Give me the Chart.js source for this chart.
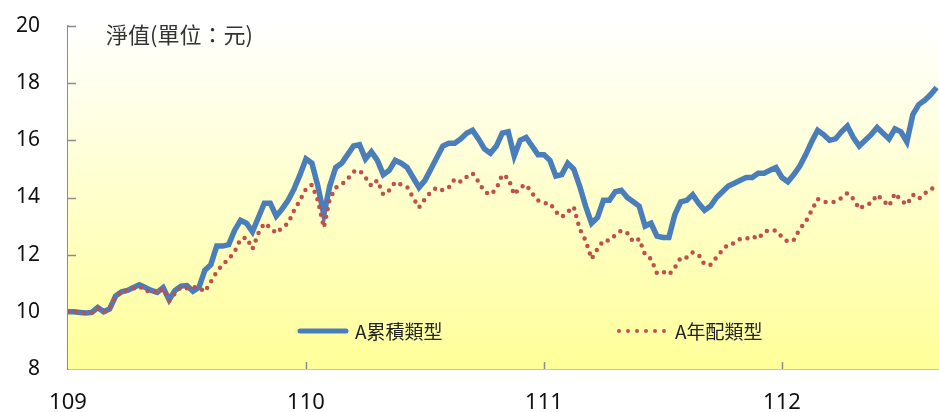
<!DOCTYPE html>
<html>
<head>
<meta charset="utf-8">
<script src="https://cdn.jsdelivr.net/npm/chart.js@4/dist/chart.umd.min.js"></script>
<style>
  html, body { margin: 0; padding: 0; background: #fff; }
  #wrap { width: 939px; height: 412px; position: relative; }
</style>
</head>
<body>
<div id="wrap"><canvas id="navChart"></canvas></div>
<script>
  // time axis (ROC year, decimal)
  const years = [
    109.000, 109.025, 109.050, 109.075, 109.100, 109.125, 109.150, 109.175, 109.200, 109.225,
    109.250, 109.275, 109.300, 109.325, 109.350, 109.375, 109.400, 109.425, 109.450, 109.475,
    109.500, 109.525, 109.550, 109.575, 109.600, 109.625, 109.650, 109.675, 109.700, 109.725,
    109.750, 109.775, 109.800, 109.825, 109.850, 109.875, 109.900, 109.925, 109.950, 109.975,
    110.000, 110.025, 110.050, 110.075, 110.100, 110.125, 110.150, 110.175, 110.200, 110.225,
    110.250, 110.275, 110.300, 110.325, 110.350, 110.375, 110.400, 110.425, 110.450, 110.475,
    110.500, 110.525, 110.550, 110.575, 110.600, 110.625, 110.650, 110.675, 110.700, 110.725,
    110.750, 110.775, 110.800, 110.825, 110.850, 110.875, 110.900, 110.925, 110.950, 110.975,
    111.000, 111.025, 111.050, 111.075, 111.100, 111.125, 111.150, 111.175, 111.200, 111.225,
    111.250, 111.275, 111.300, 111.325, 111.350, 111.375, 111.400, 111.425, 111.450, 111.475,
    111.500, 111.525, 111.550, 111.575, 111.600, 111.625, 111.650, 111.675, 111.700, 111.725,
    111.750, 111.775, 111.800, 111.825, 111.850, 111.875, 111.900, 111.925, 111.950, 111.975,
    112.000, 112.025, 112.050, 112.075, 112.100, 112.125, 112.150, 112.175, 112.200, 112.225,
    112.250, 112.275, 112.300, 112.325, 112.350, 112.375, 112.400, 112.425, 112.450, 112.475,
    112.500, 112.525, 112.550, 112.575, 112.600, 112.625, 112.650
  ];

  // A累積類型 NAV
  const accumNav = [
    10.00, 10.00, 9.98, 9.96, 9.98, 10.15, 10.00, 10.10, 10.55, 10.70,
    10.75, 10.85, 10.95, 10.85, 10.75, 10.68, 10.85, 10.42, 10.75, 10.90,
    10.92, 10.72, 10.85, 11.45, 11.65, 12.30, 12.30, 12.35, 12.85, 13.20,
    13.10, 12.80, 13.30, 13.80, 13.80, 13.35, 13.60, 13.90, 14.30, 14.80,
    15.35, 15.20, 14.40, 13.40, 14.40, 15.05, 15.20, 15.50, 15.80, 15.85,
    15.35, 15.60, 15.30, 14.80, 14.95, 15.30, 15.20, 15.05, 14.70, 14.35,
    14.60, 15.00, 15.40, 15.80, 15.90, 15.90, 16.05, 16.25, 16.35, 16.05,
    15.70, 15.55, 15.80, 16.25, 16.30, 15.45, 16.00, 16.10, 15.80, 15.50,
    15.50, 15.30, 14.75, 14.80, 15.20, 15.00, 14.40, 13.70, 13.10, 13.30,
    13.90, 13.90, 14.20, 14.25, 14.00, 13.85, 13.70, 13.00, 13.10, 12.65,
    12.60, 12.60, 13.40, 13.85, 13.90, 14.10, 13.80, 13.55, 13.70, 14.00,
    14.20, 14.40, 14.50, 14.60, 14.70, 14.70, 14.85, 14.85, 14.95, 15.05,
    14.70, 14.55, 14.80, 15.10, 15.50, 15.95, 16.35, 16.20, 16.00, 16.05,
    16.30, 16.50, 16.10, 15.80, 16.00, 16.20, 16.45, 16.25, 16.05, 16.40,
    16.30, 15.95, 16.90, 17.25, 17.40, 17.60, 17.85
  ];

  // A年配類型 NAV
  const annualNav = [
    10.00, 10.00, 9.98, 9.96, 9.97, 10.13, 9.98, 10.10, 10.55, 10.70,
    10.76, 10.82, 10.90, 10.72, 10.75, 10.66, 10.82, 10.38, 10.65, 10.87,
    10.82, 10.87, 10.85, 10.70, 11.05, 11.40, 11.65, 11.85, 12.10, 12.55,
    12.60, 12.20, 12.75, 13.10, 12.95, 12.75, 12.95, 13.10, 13.55, 13.90,
    14.30, 14.45, 13.90, 12.95, 13.95, 14.35, 14.45, 14.65, 14.90, 14.95,
    14.70, 14.40, 14.60, 14.10, 14.25, 14.54, 14.45, 14.37, 14.00, 13.65,
    13.95, 14.20, 14.35, 14.25, 14.35, 14.65, 14.55, 14.72, 14.85, 14.55,
    14.20, 14.10, 14.30, 14.80, 14.68, 14.10, 14.35, 14.45, 14.15, 13.90,
    13.80, 13.80, 13.50, 13.32, 13.50, 13.68, 12.90, 12.50, 11.85, 12.20,
    12.50, 12.50, 12.69, 12.85, 12.76, 12.45, 12.55, 12.00, 11.85, 11.35,
    11.40, 11.30, 11.55, 11.90, 11.90, 12.08, 12.00, 11.65, 11.65, 11.90,
    12.16, 12.37, 12.40, 12.55, 12.55, 12.65, 12.55, 12.80, 12.86, 12.84,
    12.62, 12.45, 12.52, 12.90, 13.15, 13.55, 13.95, 13.85, 13.84, 13.85,
    13.98, 14.15, 13.95, 13.60, 13.75, 13.80, 14.10, 13.90, 13.70, 14.15,
    13.90, 13.75, 14.10, 13.95, 14.15, 14.25, 14.50
  ];

  const seriesNames = ['A累積類型', 'A年配類型'];
  const yTicks = [8, 10, 12, 14, 16, 18, 20];
  const xTicks = [109, 110, 111, 112];
  const axisTitle = '淨值(單位：元)';

  const blue = '#4a7ebb';
  const red = '#c0504d';
  const axisGray = '#8c8c8c';

  // yellow gradient behind the plot
  const plotBackground = {
    id: 'plotBackground',
    beforeDatasetsDraw(chart) {
      const { ctx, chartArea: a } = chart;
      const g = ctx.createLinearGradient(0, a.top, 0, a.bottom);
      g.addColorStop(0, '#ffffff');
      g.addColorStop(1, '#ffff99');
      ctx.save();
      ctx.fillStyle = g;
      ctx.fillRect(a.left, a.top, a.right - a.left, a.bottom - a.top);

      // tick marks pointing into the plot
      ctx.strokeStyle = axisGray;
      ctx.lineWidth = 1.5;
      ctx.beginPath();
      chart.scales.y.ticks.forEach(t => {
        if (t.value === chart.scales.y.min) return;
        const py = Math.round(chart.scales.y.getPixelForValue(t.value)) + 0.5;
        ctx.moveTo(a.left, py);
        ctx.lineTo(a.left + 8, py);
      });
      chart.scales.x.ticks.forEach(t => {
        if (t.value === chart.scales.x.min) return;
        const px = Math.round(chart.scales.x.getPixelForValue(t.value)) + 0.5;
        ctx.moveTo(px, a.bottom);
        ctx.lineTo(px, a.bottom - 7);
      });
      ctx.stroke();
      ctx.restore();
    }
  };

  // unit title and the legend inside the plot
  const overlayText = {
    id: 'overlayText',
    afterDraw(chart) {
      const { ctx } = chart;
      ctx.save();
      ctx.fillStyle = '#333';
      ctx.textBaseline = 'middle';
      ctx.font = '22px "Noto Sans CJK TC"';
      ctx.fillText(axisTitle, 106, 35);

      // legend
      const ly = 331;
      ctx.lineCap = 'round';
      ctx.strokeStyle = blue;
      ctx.lineWidth = 5;
      ctx.beginPath();
      ctx.moveTo(300, ly);
      ctx.lineTo(346, ly);
      ctx.stroke();

      ctx.strokeStyle = red;
      ctx.lineWidth = 4;
      ctx.setLineDash([0, 9]);
      ctx.beginPath();
      ctx.moveTo(619, ly);
      ctx.lineTo(665, ly);
      ctx.stroke();
      ctx.setLineDash([]);

      ctx.fillStyle = '#222';
      ctx.font = '19px "Noto Sans CJK TC"';
      ctx.fillText(seriesNames[0], 355, ly + 1);
      ctx.fillText(seriesNames[1], 675, ly + 1);
      ctx.restore();
    }
  };

  function renderNavChart() {
    const ctx = document.getElementById('navChart').getContext('2d');
    new Chart(ctx, {
      type: 'line',
      data: {
        datasets: [
          {
            label: seriesNames[0],
            data: years.map((x, i) => ({ x: x, y: accumNav[i] })),
            borderColor: blue,
            borderWidth: 5.5,
            pointRadius: 0,
            tension: 0,
            order: 2,
          },
          {
            label: seriesNames[1],
            data: years.map((x, i) => ({ x: x, y: annualNav[i] })),
            borderColor: red,
            borderWidth: 4.5,
            borderDash: [0, 8],
            borderCapStyle: 'round',
            pointRadius: 0,
            tension: 0,
            order: 1,
          }
        ]
      },
      options: {
        responsive: true,
        maintainAspectRatio: false,
        animation: false,
        layout: { padding: { top: 26, right: 0, left: 0, bottom: 0 } },
        plugins: {
          legend: { display: false },
          tooltip: { enabled: false },
        },
        scales: {
          x: {
            type: 'linear',
            min: xTicks[0],
            max: 112.66,
            afterFit: s => { s.height = 43; s.paddingLeft = 0; s.paddingRight = 0; },
            afterBuildTicks: s => { s.ticks = xTicks.map(v => ({ value: v })); },
            ticks: {
              padding: 21,
              color: '#111',
              font: { family: 'Noto Sans', size: 22 },
              maxRotation: 0,
              callback: v => String(v),
            },
            grid: { display: false, drawTicks: false },
            border: { color: axisGray, width: 1.5 },
          },
          y: {
            min: yTicks[0],
            max: yTicks[yTicks.length - 1],
            afterFit: s => { s.width = 68; s.paddingTop = 0; s.paddingBottom = 0; },
            afterBuildTicks: s => { s.ticks = yTicks.map(v => ({ value: v })); },
            ticks: {
              padding: 28,
              color: '#111',
              font: { family: 'Noto Sans', size: 21 },
            },
            grid: { display: false, drawTicks: false },
            border: { color: axisGray, width: 1.5 },
          }
        }
      },
      plugins: [plotBackground, overlayText]
    });
  }

  renderNavChart();
</script>
</body>
</html>
